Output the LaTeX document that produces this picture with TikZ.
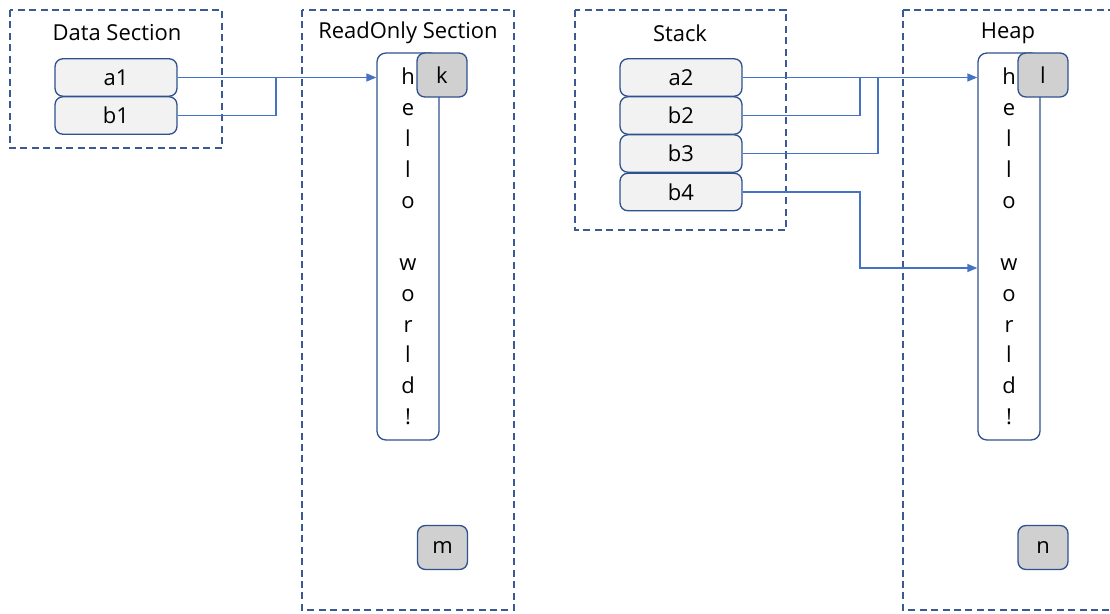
\documentclass[tikz,border=0pt]{standalone}
\usepackage{fontspec}
\setmainfont{Open Sans}
\usetikzlibrary{arrows.meta}
\definecolor{boxline}{HTML}{2F528F}
\definecolor{boxfill}{HTML}{F2F2F2}
\definecolor{cellgray}{HTML}{D0D0D0}
\definecolor{wire}{HTML}{4472C4}
\definecolor{frame}{HTML}{3B5A93}

\begin{document}
\begin{tikzpicture}[x=0.02cm,y=-0.02cm,
    font=\fontsize{12.5}{15}\selectfont,
    section/.style={draw=frame,line width=0.6pt,dash pattern=on 4pt off 2.5pt},
    var/.style={draw=boxline,fill=boxfill,line width=0.75pt,rounded corners=4.5pt,
      minimum width=2.44cm,minimum height=0.75cm,inner sep=0pt},
    cell/.style={draw=boxline,fill=cellgray,line width=0.75pt,rounded corners=4.5pt,
      minimum width=1cm,minimum height=0.88cm,inner sep=0pt},
    strbox/.style={draw=boxline,fill=white,line width=0.75pt,rounded corners=5pt,
      minimum width=1.24cm,minimum height=7.74cm,inner sep=0pt,align=center,
      font=\fontsize{12.5}{17.6}\selectfont},
    wire/.style={draw=wire,line width=0.8pt},
    ptr/.style={wire,-{Triangle[length=2mm,width=1.6mm]}}]
  \useasboundingbox (0,0) rectangle (1110,613);

  % Sections
  \draw [section] (10,10) rectangle (222,148);
  \node at (117,33) {Data Section};
  \draw [section] (302,10) rectangle (514,610);
  \node at (408,33) {ReadOnly Section};
  \draw [section] (575,10) rectangle (786,230);
  \node at (680,33) {Stack};
  \draw [section] (903,10) rectangle (1140,610);
  \node at (1008,33) {Heap};

  % Data section variables
  \node [var] (a1) at (116,77.5) {a1};
  \node [var] (b1) at (116,115.5) {b1};

  % Read-only string and cells
  \node [strbox] (str1) at (408,246.5) {h\\e\\l\\l\\o\\[17.6pt]w\\o\\r\\l\\d\\!};
  \node [cell] (k) at (442,75) {k};
  \node [cell] (m) at (442.5,547.5) {m};

  % Stack variables
  \node [var] (a2) at (681,77.5) {a2};
  \node [var] (b2) at (681,115.5) {b2};
  \node [var] (b3) at (681,153.5) {b3};
  \node [var] (b4) at (681,192) {b4};

  % Heap string and cells
  \node [strbox] (str2) at (1009,246.5) {h\\e\\l\\l\\o\\[17.6pt]w\\o\\r\\l\\d\\!};
  \node [cell] (l) at (1043,75) {l};
  \node [cell] (n) at (1043,547.5) {n};

  % Pointers
  \coordinate (j1) at (276,77.5);
  \coordinate (j2) at (860,77.5);
  \coordinate (j3) at (878,77.5);
  \coordinate (j4) at (860,268);
  \draw [ptr] (a1.east) -- (a1.east -| str1.west);
  \draw [wire] (b1.east) -| (j1);
  \draw [ptr] (a2.east) -- (a2.east -| str2.west);
  \draw [wire] (b2.east) -| (j2);
  \draw [wire] (b3.east) -| (j3);
  \draw [ptr] (b4.east) -| (j4) -- (j4 -| str2.west);
\end{tikzpicture}
\end{document}
